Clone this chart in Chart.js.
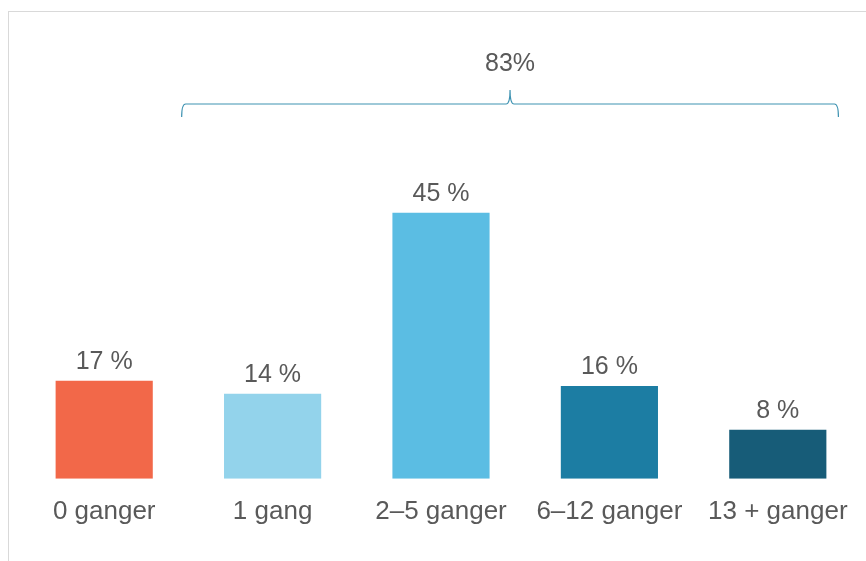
<!DOCTYPE html>
<html>
<head>
<meta charset="utf-8">
<script src="https://cdn.jsdelivr.net/npm/chart.js@4"></script>
<style>
  html, body { margin: 0; padding: 0; background: #fff; }
  #wrap { position: relative; width: 866px; height: 561px; overflow: hidden; }
  #frame { position: absolute; left: 8px; top: 11px; right: 0; bottom: 0;
           border-top: 1px solid #d9d9d9; border-left: 1px solid #d9d9d9; }
  #chart { position: absolute; left: 0; top: 0; }
</style>
</head>
<body>
<div id="wrap">
  <div id="frame"></div>
  <canvas id="chart" width="866" height="561"></canvas>
</div>
<script>
var categories = ["0 ganger", "1 gang", "2\u20135 ganger", "6\u201312 ganger", "13 + ganger"];
var shares = [16.6, 14.4, 45, 15.7, 8.3];
var barColors = ["#f26849", "#93d3eb", "#5bbde3", "#1c7da3", "#175c78"];
// bars that the bracket groups together (1 gang .. 13 + ganger)
var bracketFrom = 1;
var bracketTo = 4;

var textColor = "#595959";
var fontFamily = "'Liberation Sans', Arial, sans-serif";

var valueLabels = {
  id: 'valueLabels',
  afterDatasetsDraw: function(chart) {
    var ctx = chart.ctx;
    var meta = chart.getDatasetMeta(0);
    ctx.save();
    ctx.fillStyle = textColor;
    ctx.font = "25px " + fontFamily;
    ctx.textAlign = "center";
    ctx.textBaseline = "alphabetic";
    meta.data.forEach(function(bar, i) {
      ctx.fillText(Math.round(shares[i]) + " %", bar.x, bar.y - 12);
    });
    ctx.restore();
  }
};

var bracket = {
  id: 'bracket',
  afterDraw: function(chart) {
    var ctx = chart.ctx;
    var x = chart.scales.x;
    var step = x.getPixelForValue(1) - x.getPixelForValue(0);
    var left = x.getPixelForValue(bracketFrom) - 0.54 * step;
    var right = x.getPixelForValue(bracketTo) + 0.36 * step;
    var mid = (left + right) / 2;
    var y = chart.chartArea.top - 20;
    var r = 4;
    ctx.save();
    ctx.strokeStyle = "#3f93b2";
    ctx.lineWidth = 1.2;
    ctx.beginPath();
    ctx.moveTo(left, y + 13);
    ctx.quadraticCurveTo(left, y, left + r, y);
    ctx.lineTo(mid - r, y);
    ctx.quadraticCurveTo(mid, y, mid, y - 14);
    ctx.quadraticCurveTo(mid, y, mid + r, y);
    ctx.lineTo(right - r, y);
    ctx.quadraticCurveTo(right, y, right, y + 13);
    ctx.stroke();

    var total = 0;
    for (var i = bracketFrom; i <= bracketTo; i++) total += shares[i];
    ctx.fillStyle = textColor;
    ctx.font = "25px " + fontFamily;
    ctx.textAlign = "center";
    ctx.textBaseline = "alphabetic";
    ctx.fillText(Math.round(total) + "%", mid, y - 33);
    ctx.restore();
  }
};

var ctx = document.getElementById("chart").getContext("2d");
new Chart(ctx, {
  type: "bar",
  data: {
    labels: categories,
    datasets: [{
      data: shares,
      backgroundColor: barColors,
      borderWidth: 0,
      categoryPercentage: 1,
      barPercentage: 0.577
    }]
  },
  options: {
    responsive: false,
    animation: false,
    layout: {
      padding: { left: 20, right: 4, top: 124, bottom: 17 }
    },
    plugins: {
      legend: { display: false },
      tooltip: { enabled: false }
    },
    scales: {
      y: {
        display: false,
        min: 0,
        max: 60
      },
      x: {
        grid: { display: false, drawTicks: false },
        border: { display: false },
        ticks: {
          color: textColor,
          padding: 17,
          font: { size: 26, family: fontFamily }
        }
      }
    }
  },
  plugins: [valueLabels, bracket]
});
</script>
</body>
</html>
